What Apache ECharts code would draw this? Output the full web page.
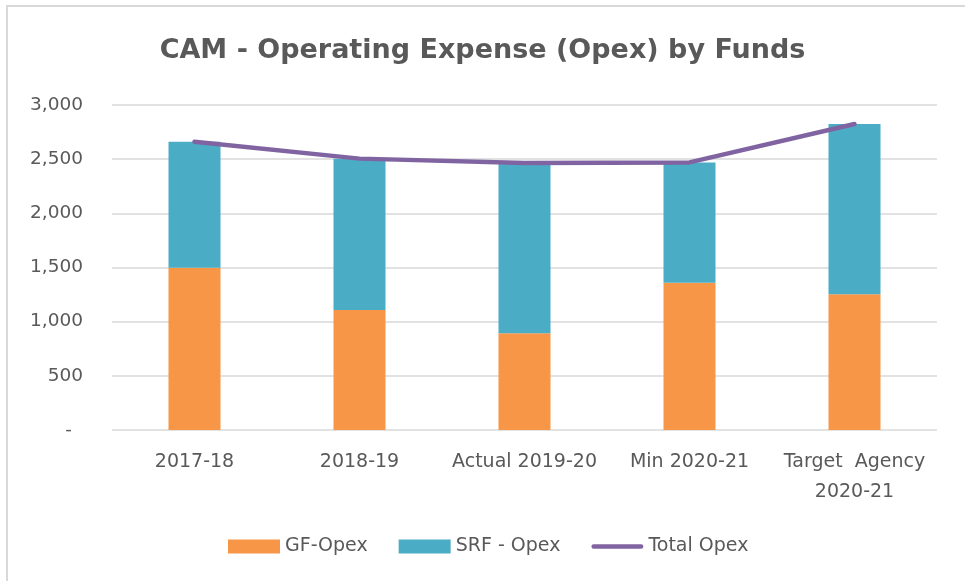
<!DOCTYPE html>
<html>
<head>
<meta charset="utf-8">
<script src="https://cdn.jsdelivr.net/npm/echarts@6/dist/echarts.min.js"></script>
<style>
html,body{margin:0;padding:0;background:#fff;}
#chart{width:965px;height:581px;}
</style>
</head>
<body>
<div id="chart"></div>
<script>
const titleText = 'CAM - Operating Expense (Opex) by Funds';
const categories = ['2017-18', '2018-19', 'Actual 2019-20', 'Min 2020-21', 'Target  Agency\n2020-21'];
const seriesNames = ['GF-Opex', 'SRF - Opex', 'Total Opex'];
const gfOpex = [1497, 1107, 892, 1359, 1254];
const srfOpex = [1163, 1398, 1573, 1111, 1571];
const totalOpex = [2660, 2505, 2465, 2470, 2825];
const yMin = 0, yMax = 3000, yInterval = 500;

const FONT = 'DejaVu Sans';
const TXT = '#595959';
const chart = echarts.init(document.getElementById('chart'), null, {renderer: 'canvas'});
chart.setOption({
  backgroundColor: '#ffffff',
  animation: false,
  title: {
    text: titleText,
    left: 'center',
    top: 32,
    textStyle: {fontFamily: FONT, fontWeight: 'bold', fontSize: 27, color: TXT}
  },
  legend: {
    left: 228,
    top: 537,
    padding: 0,
    itemWidth: 52,
    itemHeight: 14,
    itemGap: 31,
    textStyle: {fontFamily: FONT, fontSize: 19, color: TXT},
    data: [
      {name: seriesNames[0], icon: 'rect'},
      {name: seriesNames[1], icon: 'rect'},
      {name: seriesNames[2], icon: 'path://M2.5,0 H53.5 A2.5,2.5 0 0 1 53.5,5 H2.5 A2.5,2.5 0 0 1 2.5,0 Z',
        itemStyle: {color: '#8064A2'}}
    ]
  },
  grid: {left: 112, right: 28, top: 105, bottom: 151, containLabel: false},
  xAxis: {
    type: 'category',
    data: categories,
    axisLine: {show: false},
    axisTick: {show: false},
    axisLabel: {
      interval: 0,
      margin: 17,
      fontFamily: FONT, fontSize: 19, color: TXT, lineHeight: 30
    }
  },
  yAxis: {
    type: 'value',
    min: yMin, max: yMax, interval: yInterval,
    axisLine: {show: false},
    axisTick: {show: false},
    splitLine: {lineStyle: {color: '#d9d9d9', width: 1.5}},
    axisLabel: {
      margin: 29,
      fontFamily: FONT, fontSize: 18.5, color: TXT,
      formatter: function (v) {
        if (v === 0) return '{d|-}';
        return v.toLocaleString('en-US');
      },
      rich: {d: {fontFamily: FONT, fontSize: 18.5, color: TXT, padding: [0, 11, 0, 0]}}
    }
  },
  series: [
    {
      name: seriesNames[0], type: 'bar', stack: 'opex', barWidth: 52,
      data: gfOpex, itemStyle: {color: '#F79646'}
    },
    {
      name: seriesNames[1], type: 'bar', stack: 'opex', barWidth: 52,
      data: srfOpex, itemStyle: {color: '#4BACC6'}
    },
    {
      name: seriesNames[2], type: 'line', data: totalOpex,
      symbol: 'none', showSymbol: false,
      itemStyle: {color: '#8064A2'},
      lineStyle: {color: '#8064A2', width: 4.5, cap: 'round', join: 'round'},
      z: 5
    }
  ],
  graphic: [
    {type: 'line', shape: {x1: 6, y1: 6, x2: 965, y2: 6}, style: {stroke: '#d9d9d9', lineWidth: 2}, silent: true},
    {type: 'line', shape: {x1: 7, y1: 6, x2: 7, y2: 581}, style: {stroke: '#d9d9d9', lineWidth: 2}, silent: true}
  ]
});
</script>
</body>
</html>
